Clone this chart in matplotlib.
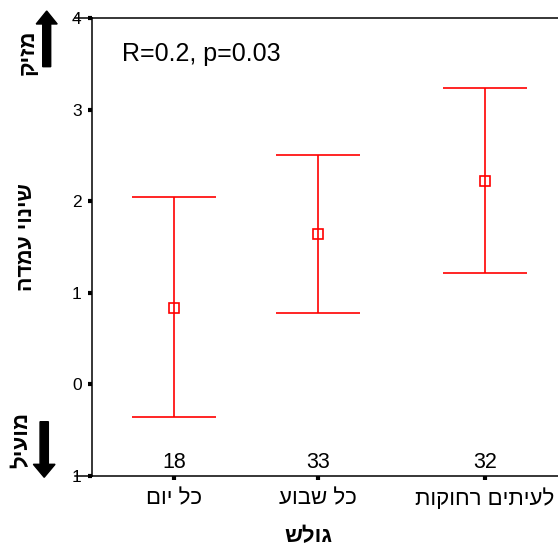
import matplotlib
matplotlib.use("Agg")
import numpy as np
import matplotlib.pyplot as plt
from matplotlib.patches import FancyArrow
from matplotlib.transforms import blended_transform_factory

plt.rcParams['font.family'] = ['Liberation Sans', 'DejaVu Sans']

# data
categories = ["כל יום", "כל שבוע", "לעיתים רחוקות"]
counts = [18, 33, 32]
means = np.array([0.83, 1.64, 2.22])
upper = np.array([2.05, 2.50, 3.24])
lower = np.array([-0.36, 0.78, 1.22])
y_ticks = [-1, 0, 1, 2, 3, 4]
y_tick_labels = ["1", "0", "1", "2", "3", "4"]
stats_text = "R=0.2, p=0.03"
x_title = "גולש"
y_title = "שינוי עמדה"
top_word = "מזיק"
bottom_word = "מועיל"

# the categories are not evenly spaced in the original
xpos = [0, 1, 2.16]


def rtl(s):
    # matplotlib has no bidi support, so lay the Hebrew out visually
    return s[::-1]


W, H = 558, 549
fig = plt.figure(figsize=(W / 100, H / 100), dpi=100)
ax = fig.add_axes([92 / W, 1 - 476 / H, 1 - 92 / W, (476 - 18) / H])

red = "#ff0000"
ax.errorbar(xpos, means, yerr=[means - lower, upper - means], fmt="s",
            color=red, mfc="none", mec=red, ms=7.5, mew=1.2,
            elinewidth=1.2, capsize=30, capthick=1.2)

ax.set_xlim(-0.569, 2.667)
ax.set_ylim(-1, 4)
ax.set_yticks(y_ticks)
ax.set_yticklabels(y_tick_labels, fontsize=12.5)
ax.set_xticks(xpos)
ax.set_xticklabels([rtl(c) for c in categories], fontsize=16)
ax.tick_params(axis="y", direction="out", length=3, width=3, pad=4.5)
ax.tick_params(axis="x", direction="out", length=3, width=3, pad=6)

ax.spines["right"].set_visible(False)
for s in ["left", "top", "bottom"]:
    ax.spines[s].set_linewidth(1.1)

# frame lines sticking out left of the y axis
for yy in (0, 1):
    ax.plot([-0.036, 0], [yy, yy], color="black", lw=1.1,
            transform=ax.transAxes, clip_on=False)

trans = blended_transform_factory(ax.transData, ax.transAxes)
for x, n in zip(xpos, counts):
    ax.text(x, 0.018, str(n), transform=trans, ha="center", va="baseline",
            fontsize=15.5)

ax.text(0.064, 0.906, stats_text, transform=ax.transAxes, fontsize=18,
        va="baseline", ha="left")

fig.text(308 / W, 1 - 537 / H, rtl(x_title), ha="center", va="center",
         fontsize=16, fontweight="bold")
fig.text(27 / W, 1 - 237 / H, rtl(y_title), ha="center", va="center",
         rotation=90, fontsize=15.5, fontweight="bold")
fig.text(28 / W, 1 - 52 / H, rtl(top_word), ha="center", va="center",
         rotation=90, fontsize=16, fontweight="bold")
fig.text(22 / W, 1 - 440 / H, rtl(bottom_word), ha="center", va="center",
         rotation=90, fontsize=16, fontweight="bold")

# thick arrows beside the y title
fig.add_artist(FancyArrow(0.467, 4.823, 0, 0.557, width=0.08,
                          head_width=0.21, head_length=0.13,
                          length_includes_head=True, color="black",
                          transform=fig.dpi_scale_trans))
fig.add_artist(FancyArrow(0.442, 1.273, 0, -0.556, width=0.083,
                          head_width=0.217, head_length=0.13,
                          length_includes_head=True, color="black",
                          transform=fig.dpi_scale_trans))

fig.savefig("out.png", dpi=100)
